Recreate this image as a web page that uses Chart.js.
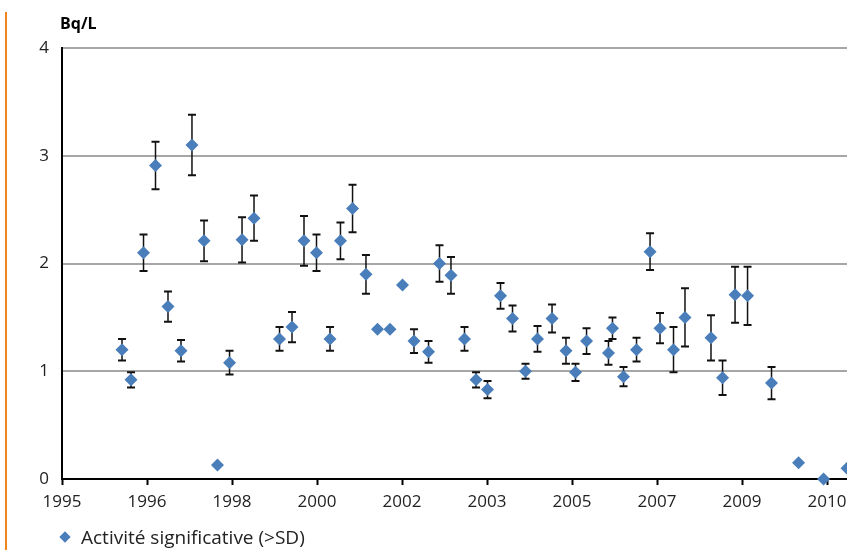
<!DOCTYPE html>
<html>
<head>
<meta charset="utf-8">
<script src="https://cdn.jsdelivr.net/npm/chart.js"></script>
<style>
    html, body { margin: 0; padding: 0; background: #fff; }
    #wrap { position: relative; width: 847px; height: 550px; font-family: "Open Sans", sans-serif; overflow: hidden; }
    #edge { position: absolute; left: 5px; top: 12px; bottom: 0; width: 2px; background: #f0851e; }
    #unit { position: absolute; left: 60px; top: 13px; font-size: 16px; font-weight: bold; color: #000; line-height: 20px; }
    #legend { position: absolute; left: 59px; top: 525px; font-size: 19px; color: #222; line-height: 24px; }
    #legend .mark { display: inline-block; width: 8px; height: 8px; background: #4a7ebb; transform: rotate(45deg); margin: 0 12px 3px 2px; vertical-align: middle; }
    canvas { position: absolute; left: 0; top: 0; }
</style>
</head>
<body>
<div id="wrap">
    <canvas id="myChart" width="847" height="550"></canvas>
    <div id="edge"></div>
    <div id="unit">Bq/L</div>
    <div id="legend"><span class="mark"></span>Activité significative (&gt;SD)</div>
</div>

<script>
    // labels of the date axis, one per major tick
    const tickLabels = ['1995', '1996', '1998', '2000', '2002', '2003', '2005', '2007', '2009', '2010'];

    // sample position along the date axis, in tick units (0 = first tick)
    const samplePos = [
        0.706, 0.812, 0.959, 1.100, 1.247, 1.400, 1.529, 1.671, 1.829, 1.971,
        2.118, 2.259, 2.559, 2.706, 2.847, 2.994, 3.153, 3.276, 3.418, 3.576,
        3.712, 3.859, 4.006, 4.141, 4.312, 4.441, 4.576, 4.735, 4.871, 5.006,
        5.159, 5.300, 5.453, 5.594, 5.765, 5.929, 6.041, 6.171, 6.429, 6.476,
        6.606, 6.759, 6.918, 7.035, 7.194, 7.329, 7.635, 7.771, 7.918, 8.065,
        8.347, 8.665, 8.959, 9.235
    ];

    // measured activity (Bq/L)
    const activity = [
        1.20, 0.92, 2.10, 2.91, 1.60, 1.19, 3.10, 2.21, 0.13, 1.08,
        2.22, 2.42, 1.30, 1.41, 2.21, 2.10, 1.30, 2.21, 2.51, 1.90,
        1.39, 1.39, 1.80, 1.28, 1.18, 2.00, 1.89, 1.30, 0.92, 0.83,
        1.70, 1.49, 1.00, 1.30, 1.49, 1.19, 0.99, 1.28, 1.17, 1.40,
        0.95, 1.20, 2.11, 1.40, 1.20, 1.50, 1.31, 0.94, 1.71, 1.70,
        0.89, 0.15, 0.00, 0.10
    ];

    // standard deviation (null = no error bar)
    const sd = [
        0.10, 0.07, 0.17, 0.22, 0.14, 0.10, 0.28, 0.19, null, 0.11,
        0.21, 0.21, 0.11, 0.14, 0.23, 0.17, 0.11, 0.17, 0.22, 0.18,
        null, null, null, 0.11, 0.10, 0.17, 0.17, 0.11, 0.07, 0.08,
        0.12, 0.12, 0.07, 0.12, 0.13, 0.12, 0.08, 0.12, 0.11, 0.10,
        0.09, 0.11, 0.17, 0.14, 0.21, 0.27, 0.21, 0.16, 0.26, 0.27,
        0.15, null, null, null
    ];

    const blue = '#4a7ebb';
    const font = { family: 'Open Sans', size: 17 };

    // draws the vertical error bars under the markers
    const errorBars = {
        id: 'errorBars',
        beforeDatasetsDraw(chart) {
            const { ctx, scales: { x, y } } = chart;
            ctx.save();
            ctx.strokeStyle = '#111';
            samplePos.forEach((p, i) => {
                if (sd[i] == null) return;
                const px = x.getPixelForValue(p);
                const top = y.getPixelForValue(activity[i] + sd[i]);
                const bot = y.getPixelForValue(activity[i] - sd[i]);
                ctx.lineWidth = 1.5;
                ctx.beginPath();
                ctx.moveTo(px, top);
                ctx.lineTo(px, bot);
                ctx.stroke();
                ctx.lineWidth = 2;
                ctx.beginPath();
                ctx.moveTo(px - 4, top);
                ctx.lineTo(px + 4, top);
                ctx.moveTo(px - 4, bot);
                ctx.lineTo(px + 4, bot);
                ctx.stroke();
            });
            ctx.restore();
        }
    };

    const ctx = document.getElementById('myChart').getContext('2d');
    const myChart = new Chart(ctx, {
        type: 'scatter',
        data: {
            datasets: [{
                label: 'Activité significative (>SD)',
                data: samplePos.map((p, i) => ({ x: p, y: activity[i] })),
                pointStyle: 'rectRot',
                pointRadius: 6.5,
                pointHoverRadius: 6.5,
                backgroundColor: blue,
                borderColor: blue,
                borderWidth: 0,
                clip: false
            }]
        },
        options: {
            responsive: false,
            animation: false,
            events: [],
            layout: { autoPadding: false, padding: { top: 48, left: 0, right: 0, bottom: 31 } },
            plugins: {
                legend: { display: false },
                tooltip: { enabled: false }
            },
            scales: {
                x: {
                    type: 'linear',
                    min: 0,
                    max: 9.235,
                    afterBuildTicks: (s) => { s.ticks = tickLabels.map((_, i) => ({ value: i })); },
                    afterFit: (s) => {
                        s.height = 40;
                        s.paddingLeft = 0;
                        s.paddingRight = 0;
                    },
                    grid: { drawOnChartArea: false, drawTicks: true, tickLength: 6, tickWidth: 2, tickColor: '#000' },
                    border: { color: '#000', width: 2 },
                    ticks: {
                        callback: (v) => tickLabels[Math.round(v)],
                        padding: 7,
                        maxRotation: 0,
                        autoSkip: false,
                        color: '#222',
                        font: font
                    }
                },
                y: {
                    min: 0,
                    max: 4,
                    afterFit: (s) => { s.width = 62; },
                    grid: { color: '#a6a6a6', lineWidth: 2, drawTicks: false },
                    border: { color: '#000', width: 2 },
                    ticks: { stepSize: 1, padding: 13, color: '#222', font: font }
                }
            }
        },
        plugins: [errorBars]
    });
</script>
</body>
</html>
